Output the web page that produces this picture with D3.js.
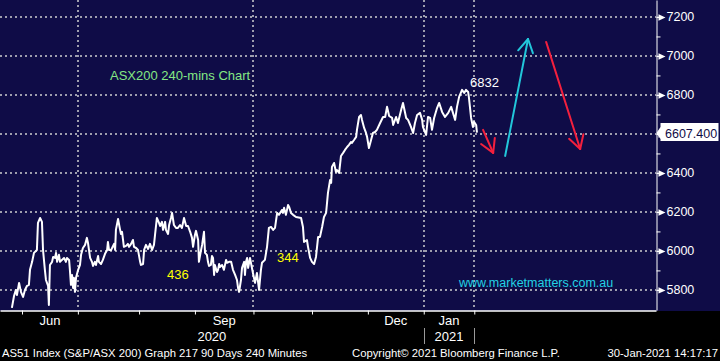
<!DOCTYPE html>
<html>
<head>
<meta charset="utf-8">
<script src="https://cdn.jsdelivr.net/npm/d3@7"></script>
<style>
html, body { margin: 0; padding: 0; background: #000; }
svg { display: block; font-family: "Liberation Sans", Arial, sans-serif; }
</style>
</head>
<body>
<div id="chart"></div>
<script>
// ASX200 240-minute chart, Bloomberg style

// Data (x = trading days since 1-Jun-2020, y = index level)
// ===========================
var priceSeries = [
  [-3.8,5708],[-3.0,5769],[-2.3,5800],[-1.9,5774],[-1.1,5836],[-0.4,5790],[0.4,5764],[1.1,5800],
  [1.9,5821],[2.6,5826],[3.0,5903],[3.8,5944],[4.5,5990],[5.6,6005],[6.0,6144],[6.8,6169],
  [7.5,6149],[7.9,6005],[8.6,5903],[9.0,5851],[9.8,5821],[10.1,5723],[10.5,5928],[11.3,5944],
  [11.7,5969],[12.4,5964],[12.8,5990],[13.2,5944],[13.9,5980],[14.3,5944],[15.0,5954],[15.8,5964],
  [16.5,5944],[16.9,5964],[17.7,5954],[18.0,5903],[18.4,5826],[18.8,5877],[19.2,5810],[19.5,5862],
  [19.9,5790],[20.3,5862],[21.1,5903],[21.8,5928],[22.2,5980],[22.9,6015],[23.7,6031],[24.4,6067],
  [24.8,6041],[25.6,5964],[26.3,5944],[26.7,5923],[27.4,5944],[27.8,5928],[28.6,5974],[28.9,5944],
  [29.7,5933],[30.4,5954],[31.2,5985],[32.0,6005],[32.3,6046],[32.7,6005],[33.5,6005],[34.6,6036],
  [35.0,6005],[35.3,6108],[36.1,6164],[36.8,6113],[37.2,6087],[37.6,6098],[38.3,6021],[39.1,6026],
  [39.8,6036],[40.2,6021],[41.0,6036],[41.7,6056],[42.1,6021],[42.9,6015],[43.6,6005],[44.4,5944],
  [44.7,5928],[45.5,5933],[45.9,6005],[46.6,6031],[47.4,6010],[48.1,6036],[48.9,6005],[49.6,6031],
  [50.0,6082],[50.7,6169],[51.5,6144],[51.9,6128],[52.6,6149],[53.0,6108],[53.8,6149],[54.1,6108],
  [54.9,6087],[55.3,6133],[56.0,6169],[56.4,6195],[57.1,6133],[57.9,6118],[58.6,6118],[59.4,6133],
  [60.1,6118],[60.9,6169],[61.7,6128],[62.4,6128],[63.2,6098],[63.9,6067],[64.3,6021],[65.0,6082],
  [65.4,6103],[66.2,6056],[66.5,5944],[67.3,6005],[67.7,6031],[68.4,6098],[68.8,5990],[69.5,5980],
  [69.9,5944],[70.3,5923],[71.0,5928],[71.4,5974],[71.8,5964],[72.2,5877],[72.5,5928],[73.3,5892],
  [73.7,5903],[74.1,5933],[74.4,5918],[75.2,5928],[75.9,5903],[76.7,5954],[77.1,5939],[77.8,5944],
  [78.6,5944],[79.3,5903],[80.1,5877],[80.8,5851],[81.2,5810],[81.6,5790],[82.3,5851],[82.7,5913],
  [83.5,5944],[83.8,5877],[84.2,5944],[84.6,5964],[85.0,5913],[85.7,5964],[86.8,5887],[87.6,5836],
  [88.3,5887],[89.1,5800],[89.8,5903],[90.2,5939],[91.3,5954],[92.1,6021],[92.8,6118],[93.6,6123],
  [94.4,6108],[95.1,6118],[95.9,6195],[96.6,6185],[97.7,6210],[98.1,6195],[98.5,6221],[99.2,6185],
  [100.0,6236],[100.4,6226],[101.1,6195],[101.9,6185],[103.0,6174],[104.9,6169],[105.6,6123],[106.0,6046],
  [107.1,6056],[107.5,6021],[108.3,5964],[109.0,5944],[109.8,5933],[110.5,5969],[111.3,6072],[112.0,6072],
  [112.8,6123],[113.5,6174],[114.3,6195],[115.0,6298],[115.8,6364],[116.2,6349],[116.5,6431],[117.3,6451],
  [118.0,6405],[118.4,6415],[119.2,6400],[119.9,6487],[120.7,6503],[121.4,6518],[122.2,6533],[122.9,6544],
  [123.7,6559],[124.0,6554],[124.8,6569],[125.6,6585],[125.9,6621],[126.7,6687],[127.4,6697],[127.8,6672],
  [128.6,6631],[129.3,6605],[129.7,6585],[130.4,6528],[131.2,6569],[131.9,6605],[132.7,6610],[133.4,6621],
  [134.6,6656],[135.7,6687],[136.5,6687],[137.2,6739],[138.0,6692],[139.1,6682],[139.5,6646],[140.6,6687],
  [141.3,6656],[142.5,6723],[143.2,6759],[144.4,6682],[145.1,6672],[146.2,6636],[147.0,6605],[147.7,6656],
  [148.5,6697],[149.6,6708],[150.4,6672],[150.7,6636],[151.9,6595],[152.6,6687],[153.4,6682],[154.1,6621],
  [154.9,6682],[156.0,6733],[156.8,6759],[157.9,6713],[159.0,6687],[160.2,6708],[161.3,6739],[162.1,6703],
  [162.8,6672],[163.5,6739],[164.3,6790],[165.4,6826],[166.2,6810],[166.9,6826],[167.7,6815],[168.0,6785],
  [168.8,6682],[169.5,6636],[169.9,6662],[170.7,6646],[171.0,6607]
];

var lastPrice = 6607.4;
var peakLabel = "6832";

// right axis ticks
var yMajor = [5800, 6000, 6200, 6400, 6600, 6800, 7000, 7200];
var yMinor = [5900, 6100, 6300, 6500, 6700, 6900, 7100];

// bottom axis (month starts in trading days)
var monthStarts = [0, 21, 44, 65, 87, 109, 130, 151, 170];
var monthNames = ["Jun", "Sep", "Dec", "Jan"];
var monthSpans = [[0, 21], [65, 87], [130, 151], [151, 170]];
var gridDays = [21, 87, 151, 170];
var yearNames = ["2020", "2021"];
var yearSpans = [[-8.27, 151], [151, 170]];

// hand-drawn forecast arrows, in (day, level)
var arrowFrom = [[173.3, 6621], [181.6, 6487], [197.0, 7072]];
var arrowTo   = [[177.1, 6503], [190.2, 7087], [209.8, 6523]];

// move sizes annotated on the chart
var moveLabels = ["436", "344"];

// Setup
// ===========================
var svgWidth = 720, svgHeight = 361;
var plotRight = 656, plotBottom = 310;
var navy = "#0f0c47";

var x = d3.scaleLinear().domain([-8.27, 238.3]).range([0, plotRight]);
var y = d3.scaleLinear().domain([5697, 7287]).range([plotBottom, 0]);

var svg = d3.select("#chart").append("svg")
  .attr("width", svgWidth)
  .attr("height", svgHeight);

svg.append("rect").attr("width", svgWidth).attr("height", svgHeight).attr("fill", "#000");
svg.append("rect").attr("width", svgWidth).attr("height", plotBottom + 1).attr("fill", navy);

// Gridlines
// ===========================
var grid = svg.append("g")
  .attr("stroke", "#9e9eae")
  .attr("stroke-width", 2)
  .attr("stroke-dasharray", "2,3");

grid.selectAll(".hgrid").data(yMajor).enter().append("line")
  .attr("x1", 0).attr("x2", plotRight)
  .attr("y1", d => Math.round(y(d))).attr("y2", d => Math.round(y(d)));

grid.selectAll(".vgrid").data(gridDays).enter().append("line")
  .attr("x1", d => Math.round(x(d))).attr("x2", d => Math.round(x(d)))
  .attr("y1", 0).attr("y2", plotBottom);

// Bottom axis
// ===========================
var bottom = svg.append("g")
  .attr("transform", `translate(0, ${plotBottom + 0.5})`)
  .call(d3.axisBottom(x).tickValues(monthStarts).tickSize(4).tickSizeOuter(0).tickFormat(""));
bottom.select(".domain").attr("stroke", "#fff").attr("stroke-width", 1.5);
bottom.selectAll(".tick line").attr("stroke", "#fff");

svg.selectAll(".mlabel").data(monthNames).enter().append("text")
  .attr("x", (d, i) => x((monthSpans[i][0] + monthSpans[i][1]) / 2))
  .attr("y", 325)
  .attr("text-anchor", "middle")
  .attr("fill", "#fff")
  .style("font-size", "13px")
  .text(d => d);

svg.selectAll(".ylabel").data(yearNames).enter().append("text")
  .attr("x", (d, i) => x((yearSpans[i][0] + yearSpans[i][1]) / 2))
  .attr("y", 341)
  .attr("text-anchor", "middle")
  .attr("fill", "#fff")
  .style("font-size", "13px")
  .text(d => d);

svg.selectAll(".ysep").data([151, 170]).enter().append("line")
  .attr("x1", d => Math.round(x(d)) + 0.5).attr("x2", d => Math.round(x(d)) + 0.5)
  .attr("y1", 328).attr("y2", 344)
  .attr("stroke", "#9a9a9a");

// Right axis
// ===========================
// the level under the last-price tag is not labelled
var right = svg.append("g")
  .attr("transform", `translate(${plotRight + 0.5}, 0)`)
  .call(d3.axisRight(y).tickValues(yMajor).tickSize(0).tickPadding(10)
    .tickFormat(d => Math.abs(d - lastPrice) < 60 ? "" : d3.format("d")(d)));
right.select(".domain").attr("stroke", "#fff");
right.selectAll(".tick text")
  .attr("fill", "#fff")
  .style("font-size", "12.5px")
  .style("font-family", "'Liberation Sans', Arial, sans-serif");
right.selectAll(".tick").append("path")
  .attr("d", "M0,-0.6H2V-3.2L9,0L2,3.2V0.6H0Z")
  .attr("fill", "#fff");

var minor = svg.append("g")
  .attr("transform", `translate(${plotRight + 0.5}, 0)`)
  .call(d3.axisRight(y).tickValues(yMinor).tickSize(4).tickFormat(""));
minor.select(".domain").remove();
minor.selectAll(".tick line").attr("stroke", "#fff");

// Price line
// ===========================
var line = d3.line()
  .x(d => x(d[0]))
  .y(d => y(d[1]));

svg.append("path")
  .datum(priceSeries)
  .attr("d", line)
  .attr("fill", "none")
  .attr("stroke", "#fff")
  .attr("stroke-width", 2)
  .attr("stroke-linejoin", "round");

// last price tag
var tag = svg.append("g")
  .attr("transform", `translate(${plotRight + 0.5}, ${Math.round(y(lastPrice))})`);
tag.append("path")
  .attr("d", "M0,0L4,-6V-10H62V8H4V6Z")
  .attr("fill", "#fff");
tag.append("text")
  .attr("x", 8.5).attr("y", 0).attr("dy", "0.36em")
  .attr("fill", navy)
  .style("font-size", "12.5px")
  .text(d3.format(".3f")(lastPrice));

// Arrows
// ===========================
var arrowColors = ["#f3203e", "#22c6da", "#f3203e"];
arrowFrom.forEach(function(f, i) {
  var t = arrowTo[i];
  var x1 = x(f[0]), y1 = y(f[1]), x2 = x(t[0]), y2 = y(t[1]);
  var ang = Math.atan2(y1 - y2, x1 - x2);
  var len = 15, spread = Math.PI / 6;
  var g = svg.append("g")
    .attr("stroke", arrowColors[i])
    .attr("stroke-width", 2)
    .attr("stroke-linecap", "round");
  g.append("line").attr("x1", x1).attr("y1", y1).attr("x2", x2).attr("y2", y2);
  [-spread, spread].forEach(function(s) {
    g.append("line")
      .attr("x1", x2).attr("y1", y2)
      .attr("x2", x2 + len * Math.cos(ang + s))
      .attr("y2", y2 + len * Math.sin(ang + s));
  });
});

// Text annotations
// ===========================
svg.append("text")
  .attr("x", 110).attr("y", 80)
  .attr("fill", "#84e884")
  .style("font-size", "13px")
  .text("ASX200 240-mins Chart");

svg.append("text")
  .attr("x", 470).attr("y", 87)
  .attr("fill", "#fff")
  .style("font-size", "13px")
  .text(peakLabel);

svg.append("text")
  .attr("x", 167).attr("y", 279)
  .attr("fill", "#ffff00")
  .style("font-size", "13px")
  .text(moveLabels[0]);

svg.append("text")
  .attr("x", 277).attr("y", 262)
  .attr("fill", "#ffff00")
  .style("font-size", "13px")
  .text(moveLabels[1]);

svg.append("text")
  .attr("x", 459).attr("y", 287)
  .attr("fill", "#22d2e4")
  .style("font-size", "12.5px")
  .text("www.marketmatters.com.au");

// Footer
// ===========================
var footer = svg.append("g")
  .attr("fill", "#fff")
  .style("font-size", "11.3px");
footer.append("text").attr("x", 2).attr("y", 357)
  .text("AS51 Index (S&P/ASX 200) Graph 217 90 Days 240 Minutes");
footer.append("text").attr("x", 352).attr("y", 357)
  .text("Copyright\u00A9 2021 Bloomberg Finance L.P.");
footer.append("text").attr("x", 718).attr("y", 357).attr("text-anchor", "end")
  .text("30-Jan-2021 14:17:17");
</script>
</body>
</html>
